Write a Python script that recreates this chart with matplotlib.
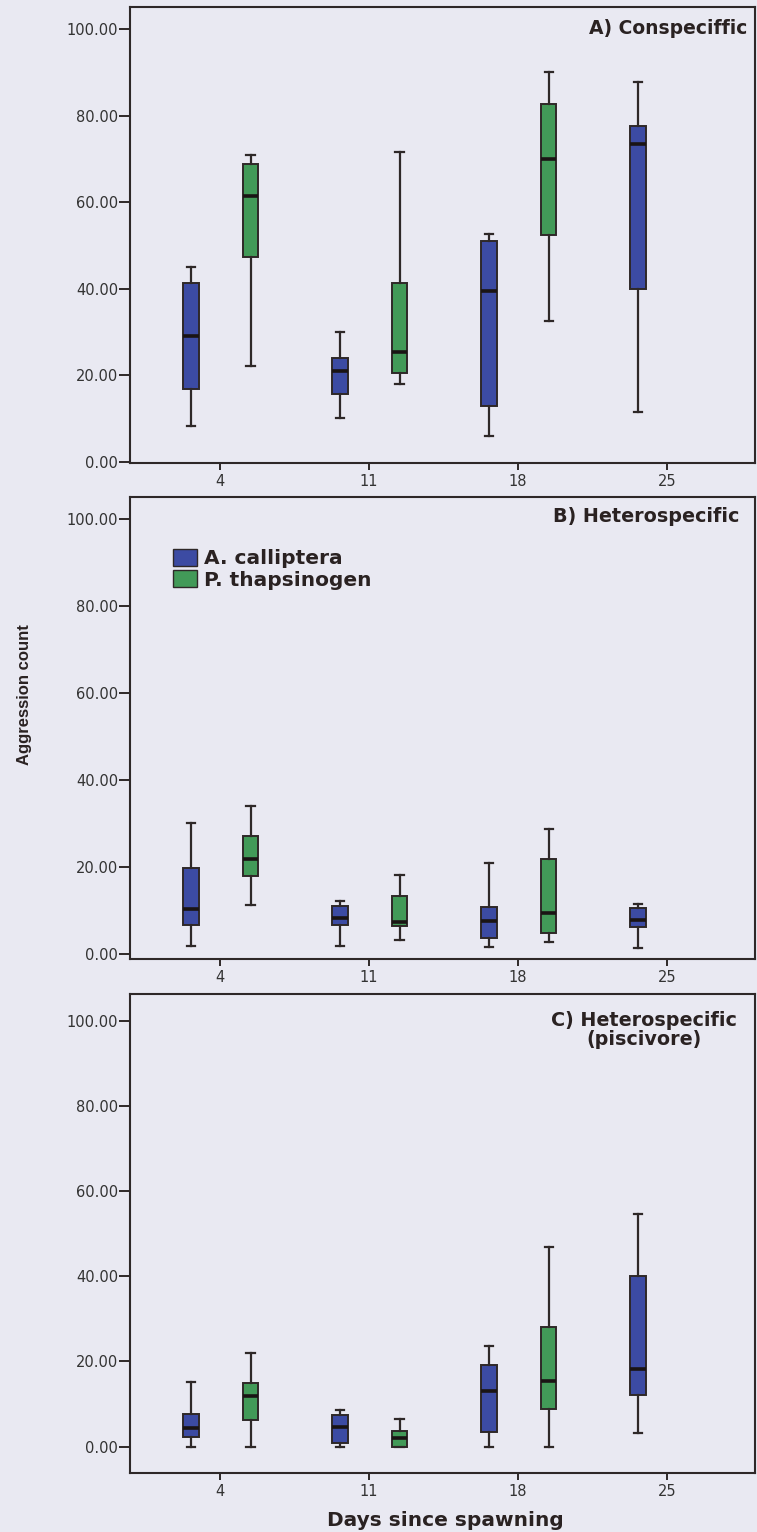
import matplotlib
matplotlib.use("Agg")
import matplotlib.pyplot as plt
from matplotlib.patches import Patch

# ---------------- data ----------------
days = ["4", "11", "18", "25"]
species = ["A. calliptera", "P. thapsinogen"]

# each entry: [whisker low, Q1, median, Q3, whisker high] per day (None = no box)
consp_calliptera = [[8.3, 16.8, 29.1, 41.3, 45.0], [10.0, 15.7, 21.0, 24.0, 30.0],
                    [6.0, 12.9, 39.5, 51.0, 52.6], [11.6, 39.9, 73.4, 77.6, 87.8]]
consp_thapsinogen = [[22.2, 47.3, 61.4, 68.8, 70.9], [18.0, 20.5, 25.4, 41.3, 71.6],
                     [32.6, 52.4, 70.0, 82.7, 90.0], None]

hetero_calliptera = [[1.8, 6.7, 10.3, 19.8, 30.1], [1.8, 6.7, 8.3, 11.0, 12.2],
                     [1.6, 3.7, 7.6, 10.8, 20.9], [1.4, 6.2, 7.8, 10.6, 11.5]]
hetero_thapsinogen = [[11.3, 17.9, 21.8, 27.1, 34.0], [3.2, 6.5, 7.3, 13.3, 18.2],
                      [2.8, 4.8, 9.4, 21.8, 28.7], None]

pisc_calliptera = [[0.0, 2.2, 4.3, 7.6, 15.1], [0.0, 0.8, 4.7, 7.5, 8.7],
                   [0.0, 3.5, 13.0, 19.1, 23.6], [3.1, 12.1, 18.3, 40.1, 54.6]]
pisc_thapsinogen = [[0.0, 6.3, 11.8, 14.9, 22.0], [0.0, 0.0, 2.0, 3.6, 6.6],
                    [0.0, 8.9, 15.5, 28.0, 46.9], None]

panel_titles = ["A) Conspeciffic", "B) Heterospecific", "C) Heterospecific\n(piscivore)"]
y_ticks = [0, 20, 40, 60, 80, 100]

# ---------------- style ----------------
W, H = 757, 1532
DPI = 100
BG = "#e9e9f2"
LINE = "#2e2828"
TXT = "#333333"
DARK = "#2a2222"
BLUE = "#3c4ba3"
GREEN = "#429a58"
colors = [BLUE, GREEN]

fig = plt.figure(figsize=(W / DPI, H / DPI), dpi=DPI, facecolor=BG)

def px_axes(left, top, right, bottom):
    return fig.add_axes([left / W, 1 - bottom / H, (right - left) / W, (bottom - top) / H])

panels = [
    (px_axes(130, 7, 755, 463), consp_calliptera, consp_thapsinogen, (-0.3, 105.1)),
    (px_axes(130, 497, 755, 959), hetero_calliptera, hetero_thapsinogen, (-1.1, 105.0)),
    (px_axes(130, 994, 755, 1473), pisc_calliptera, pisc_thapsinogen, (-6.2, 106.3)),
]

offsets = [-0.195, 0.205]
width = 0.105

for i, (ax, ser_a, ser_p, ylim) in enumerate(panels):
    ax.set_facecolor(BG)
    for s, ser in enumerate([ser_a, ser_p]):
        stats, pos = [], []
        for d, v in enumerate(ser):
            if v is None:
                continue
            stats.append(dict(whislo=v[0], q1=v[1], med=v[2], q3=v[3], whishi=v[4], fliers=[]))
            pos.append(d + offsets[s])
        ax.bxp(stats, positions=pos, widths=width, patch_artist=True, showfliers=False,
               boxprops=dict(facecolor=colors[s], edgecolor=LINE, linewidth=1.4),
               medianprops=dict(color="#1a1414", linewidth=2.6),
               whiskerprops=dict(color=LINE, linewidth=1.6),
               capprops=dict(color=LINE, linewidth=1.6),
               capwidths=0.055, manage_ticks=False)
    ax.set_xlim(-0.604, 3.59)
    ax.set_ylim(*ylim)
    ax.set_xticks(range(len(days)))
    ax.set_xticklabels(days)
    ax.set_yticks(y_ticks)
    ax.set_yticklabels([f"{t:.2f}" for t in y_ticks])
    for sp in ax.spines.values():
        sp.set_color(LINE)
        sp.set_linewidth(1.5)
    ax.tick_params(axis="both", colors=LINE, labelcolor=TXT, length=8, width=1.4, pad=0.5,
                   labelsize=10.5)
    for lab in ax.get_xticklabels() + ax.get_yticklabels():
        lab.set_fontfamily("DejaVu Sans")
    ax.tick_params(axis="x", pad=3, length=5)

# titles
fig.text(747 / W, 1 - 28 / H, panel_titles[0], ha="right", va="center",
         fontsize=13.5, fontweight="bold", family="DejaVu Sans", color=DARK)
fig.text(739 / W, 1 - 517 / H, panel_titles[1], ha="right", va="center",
         fontsize=13.8, fontweight="bold", family="DejaVu Sans", color=DARK)
fig.text(644 / W, 1 - 1030 / H, panel_titles[2], ha="center", va="center",
         fontsize=13.8, fontweight="bold", family="DejaVu Sans", color=DARK,
         multialignment="center", linespacing=1.0)

# legend
handles = [Patch(facecolor=colors[k], edgecolor=LINE, linewidth=1.0) for k in range(2)]
leg = fig.legend(handles, species, loc="upper left", bbox_to_anchor=(173 / W, 1 - 549 / H),
                 bbox_transform=fig.transFigure, frameon=False, borderpad=0, borderaxespad=0,
                 handlelength=1.2, handleheight=0.9, handletextpad=0.35, labelspacing=0.1,
                 prop=dict(family="DejaVu Sans", weight="bold", size=14.5))
for t in leg.get_texts():
    t.set_color(DARK)

# axis labels
fig.text(25 / W, 1 - 695 / H, "Aggression count", rotation=90, ha="center", va="center",
         fontsize=12, fontweight="bold", family="Liberation Sans", color=DARK)
fig.text(445 / W, 1 - 1520 / H, "Days since spawning", ha="center", va="center",
         fontsize=14.5, fontweight="bold", family="DejaVu Sans", color=DARK)

fig.savefig("out.png", dpi=DPI, facecolor=BG)
